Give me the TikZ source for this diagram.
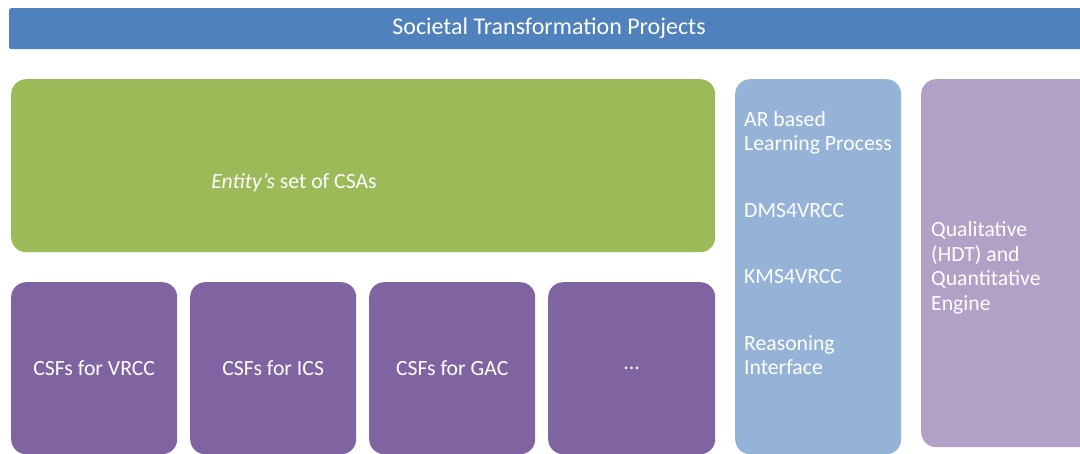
\documentclass[tikz,border=0pt]{standalone}
\usepackage{fontspec}
\setmainfont{Carlito}
\usetikzlibrary{positioning}

\definecolor{projblue}{HTML}{4F81BD}
\definecolor{csagreen}{HTML}{9BBB59}
\definecolor{csfpurple}{HTML}{8064A2}
\definecolor{toolblue}{HTML}{95B3D7}
\definecolor{enginelilac}{HTML}{B2A1C7}

\tikzset{
  panel/.style = {anchor=north west, inner sep=0pt, rounded corners=15pt, text=white},
  label/.style = {text=white, inner sep=0pt, align=left, anchor=west}
}

\begin{document}
\begin{tikzpicture}[x=1pt, y=-1pt, font=\fontsize{21.7}{24.5}\selectfont]
    \useasboundingbox (0,0) rectangle (1080,453);
    \clip (0,0) rectangle (1080,453);

    \node[panel, fill=projblue, rounded corners=2pt, minimum width=1080pt, minimum height=41pt] (proj) at (9,8) {};
    \node[text=white, font=\fontsize{24}{28}\selectfont] (projtext) at (549,28) {Societal Transformation Projects};

    \node[panel, fill=csagreen, minimum width=704pt, minimum height=173pt] (csa) at (11,79) {};
    \node[text=white] (csatext) at (294,183) {\textit{Entity's} set of CSAs};

    \node[panel, fill=csfpurple, minimum width=166pt, minimum height=172pt] (vrcc) at (11,282) {CSFs for VRCC};
    \node[panel, fill=csfpurple, minimum width=166pt, minimum height=172pt] (ics) at (190,282) {CSFs for ICS};
    \node[panel, fill=csfpurple, minimum width=166pt, minimum height=172pt] (gac) at (369,282) {CSFs for GAC};
    \node[panel, fill=csfpurple, minimum width=167pt, minimum height=172pt] (more) at (548,282) {...};

    \node[panel, fill=toolblue, minimum width=166pt, minimum height=375pt] (tools) at (735,79) {};
    \node[label] (arlp) at (744,133) {AR based\\Learning Process};
    \node[label] (dms) at (744,211) {DMS4VRCC};
    \node[label] (kms) at (744,277) {KMS4VRCC};
    \node[label] (reason) at (744,355) {Reasoning\\Interface};

    \node[panel, fill=enginelilac, minimum width=180pt, minimum height=368pt] (engine) at (921,79) {};
    \node[label] (qq) at (931,268) {Qualitative\\(HDT) and\\Quantitative\\Engine};
\end{tikzpicture}
\end{document}
